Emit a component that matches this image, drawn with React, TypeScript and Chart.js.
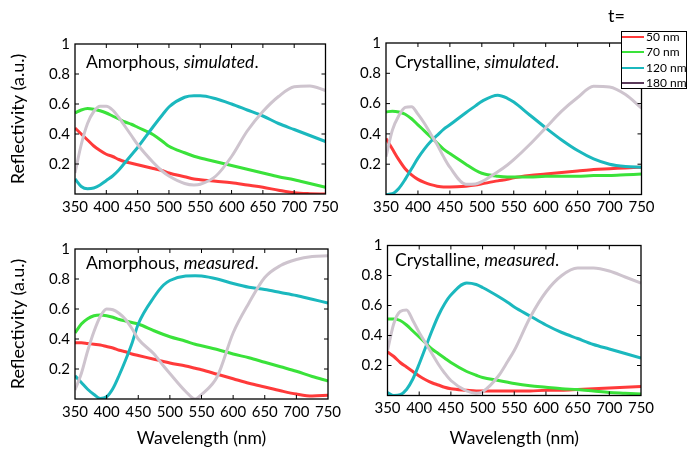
import React, { useEffect, useRef } from 'react';
import { Chart, registerables } from 'chart.js';

Chart.register(...registerables);

// ---------- data ----------
const wavelengths = [350, 360, 370, 380, 390, 400, 410, 420, 430, 440, 450, 475, 490, 500, 525, 540, 550, 575, 600, 625, 650, 675, 700, 725, 750];
const seriesLabels = ['50 nm', '70 nm', '120 nm', '180 nm'];
const panelTitles = [
  ['Amorphous, ', 'simulated', '.'],
  ['Crystalline, ', 'simulated', '.'],
  ['Amorphous, ', 'measured', '.'],
  ['Crystalline, ', 'measured', '.'],
];
const xAxisTitle = 'Wavelength (nm)';
const yAxisTitle = 'Reflectivity (a.u.)';
const legendTitle = 't=';

// Amorphous, simulated
const amSim50 = [0.44, 0.40, 0.36, 0.32, 0.29, 0.265, 0.25, 0.23, 0.215, 0.205, 0.195, 0.17, 0.155, 0.14, 0.115, 0.10, 0.095, 0.085, 0.075, 0.06, 0.045, 0.025, 0.008, 0.002, 0];
const amSim70 = [0.54, 0.56, 0.57, 0.565, 0.555, 0.54, 0.52, 0.50, 0.48, 0.465, 0.445, 0.395, 0.35, 0.318, 0.275, 0.252, 0.24, 0.215, 0.19, 0.165, 0.14, 0.115, 0.095, 0.07, 0.045];
const amSim120 = [0.10, 0.05, 0.035, 0.04, 0.06, 0.09, 0.12, 0.16, 0.21, 0.26, 0.31, 0.45, 0.53, 0.58, 0.645, 0.655, 0.655, 0.635, 0.60, 0.56, 0.52, 0.47, 0.43, 0.39, 0.35];
const amSim180 = [0.14, 0.33, 0.47, 0.55, 0.585, 0.585, 0.56, 0.51, 0.45, 0.39, 0.33, 0.21, 0.15, 0.12, 0.07, 0.06, 0.065, 0.12, 0.25, 0.42, 0.55, 0.65, 0.715, 0.72, 0.69];

// Crystalline, simulated
const crSim50 = [0.37, 0.30, 0.23, 0.17, 0.13, 0.10, 0.08, 0.065, 0.055, 0.05, 0.05, 0.055, 0.062, 0.07, 0.09, 0.10, 0.11, 0.125, 0.135, 0.145, 0.155, 0.165, 0.17, 0.175, 0.18];
const crSim70 = [0.545, 0.55, 0.545, 0.53, 0.50, 0.46, 0.42, 0.38, 0.34, 0.30, 0.27, 0.20, 0.16, 0.14, 0.12, 0.115, 0.115, 0.115, 0.12, 0.12, 0.12, 0.125, 0.125, 0.13, 0.135];
const crSim120 = [0.0, 0.005, 0.04, 0.10, 0.17, 0.24, 0.30, 0.35, 0.39, 0.43, 0.46, 0.54, 0.585, 0.615, 0.655, 0.635, 0.61, 0.525, 0.44, 0.36, 0.29, 0.235, 0.20, 0.185, 0.18];
const crSim180 = [0.25, 0.425, 0.52, 0.575, 0.58, 0.53, 0.47, 0.40, 0.33, 0.25, 0.18, 0.068, 0.07, 0.085, 0.15, 0.195, 0.23, 0.33, 0.44, 0.55, 0.64, 0.715, 0.71, 0.66, 0.57];

// Amorphous, measured
const amMeas50 = [0.375, 0.375, 0.37, 0.365, 0.36, 0.35, 0.34, 0.325, 0.315, 0.30, 0.29, 0.265, 0.25, 0.24, 0.22, 0.205, 0.195, 0.165, 0.135, 0.105, 0.08, 0.055, 0.033, 0.02, 0.025];
const amMeas70 = [0.44, 0.50, 0.535, 0.555, 0.56, 0.555, 0.545, 0.53, 0.52, 0.51, 0.50, 0.455, 0.43, 0.415, 0.385, 0.365, 0.355, 0.33, 0.30, 0.275, 0.245, 0.215, 0.185, 0.15, 0.12];
const amMeas120 = [0.155, 0.11, 0.065, 0.03, 0.003, 0.015, 0.07, 0.16, 0.26, 0.37, 0.50, 0.68, 0.76, 0.79, 0.82, 0.822, 0.82, 0.80, 0.77, 0.745, 0.73, 0.71, 0.69, 0.665, 0.64];
const amMeas180 = [0.06, 0.17, 0.32, 0.45, 0.55, 0.60, 0.595, 0.57, 0.53, 0.47, 0.40, 0.30, 0.22, 0.17, 0.05, 0.0, 0.03, 0.15, 0.44, 0.64, 0.81, 0.89, 0.93, 0.95, 0.955];

// Crystalline, measured
const crMeas50 = [0.29, 0.26, 0.22, 0.19, 0.16, 0.13, 0.105, 0.085, 0.07, 0.055, 0.045, 0.035, 0.03, 0.03, 0.03, 0.03, 0.03, 0.03, 0.035, 0.035, 0.04, 0.045, 0.05, 0.055, 0.06];
const crMeas70 = [0.51, 0.51, 0.50, 0.47, 0.43, 0.39, 0.35, 0.31, 0.28, 0.25, 0.22, 0.16, 0.135, 0.12, 0.10, 0.088, 0.08, 0.065, 0.055, 0.045, 0.04, 0.03, 0.02, 0.015, 0.01];
const crMeas120 = [0.02, 0.0, 0.005, 0.04, 0.11, 0.21, 0.32, 0.43, 0.53, 0.61, 0.67, 0.75, 0.74, 0.72, 0.66, 0.62, 0.59, 0.53, 0.47, 0.42, 0.38, 0.34, 0.31, 0.28, 0.25];
const crMeas180 = [0.30, 0.48, 0.56, 0.57, 0.50, 0.42, 0.35, 0.28, 0.21, 0.15, 0.10, 0.03, 0.015, 0.025, 0.13, 0.23, 0.30, 0.52, 0.69, 0.80, 0.85, 0.85, 0.83, 0.79, 0.75];

// ---------- styling / layout ----------
const W = 687;
const H = 449;
const FONT = 'Lato, "Open Sans", sans-serif';
const lineColors = ['#ff3a3a', '#3ae23a', '#1bb8be', '#cec4ce'];
const legendColors = ['#ff3a3a', '#3ae23a', '#1bb8be', '#5a3a5a'];

type Area = { left: number; top: number; right: number; bottom: number };
type Panel = { area: Area; canvasLeft: number; yTitle: boolean; xTitle: boolean; series: number[][]; title: string[]; textX: number; textY: number };

const panels: Panel[] = [
  { area: { left: 75, top: 44, right: 325.5, bottom: 194 }, canvasLeft: 0, yTitle: true, xTitle: false, series: [amSim50, amSim70, amSim120, amSim180], title: panelTitles[0], textX: 86, textY: 62 },
  { area: { left: 386, top: 43, right: 641.5, bottom: 194.5 }, canvasLeft: 340, yTitle: false, xTitle: false, series: [crSim50, crSim70, crSim120, crSim180], title: panelTitles[1], textX: 395, textY: 62 },
  { area: { left: 75, top: 249, right: 328, bottom: 399 }, canvasLeft: 0, yTitle: true, xTitle: true, series: [amMeas50, amMeas70, amMeas120, amMeas180], title: panelTitles[2], textX: 86, textY: 263 },
  { area: { left: 387.5, top: 245.5, right: 641, bottom: 395.5 }, canvasLeft: 340, yTitle: false, xTitle: true, series: [crMeas50, crMeas70, crMeas120, crMeas180], title: panelTitles[3], textX: 395, textY: 260 },
];

const boxPlugin = {
  id: 'matlabBox',
  afterDraw(chart: any) {
    const { ctx, chartArea: a, scales } = chart;
    ctx.save();
    ctx.strokeStyle = '#000';
    ctx.lineWidth = 1.3;
    ctx.strokeRect(a.left, a.top, a.right - a.left, a.bottom - a.top);
    const tl = 4;
    ctx.beginPath();
    scales.x.ticks.forEach((t: any) => {
      if (t.value <= scales.x.min || t.value >= scales.x.max) return;
      const px = scales.x.getPixelForValue(t.value);
      ctx.moveTo(px, a.bottom);
      ctx.lineTo(px, a.bottom - tl);
      ctx.moveTo(px, a.top);
      ctx.lineTo(px, a.top + tl);
    });
    scales.y.ticks.forEach((t: any) => {
      if (t.value <= scales.y.min + 1e-9 || t.value >= scales.y.max - 1e-9) return;
      const py = scales.y.getPixelForValue(t.value);
      ctx.moveTo(a.left, py);
      ctx.lineTo(a.left + tl, py);
      ctx.moveTo(a.right, py);
      ctx.lineTo(a.right - tl, py);
    });
    ctx.lineWidth = 1;
    ctx.stroke();
    ctx.restore();
  },
};

function buildChart(canvas: HTMLCanvasElement, p: Panel) {
  const yw = p.area.left - p.canvasLeft;
  const xh = p.xTitle ? H - p.area.bottom : 31;
  return new Chart(canvas, {
    type: 'line',
    data: {
      datasets: p.series.map((vals, i) => ({
        label: seriesLabels[i],
        data: wavelengths.map((x, j) => ({ x, y: vals[j] })),
        borderColor: lineColors[i],
        backgroundColor: lineColors[i],
        borderWidth: 3,
        pointRadius: 0,
        fill: false,
        cubicInterpolationMode: 'monotone' as const,
        order: 3 - i,
      })),
    },
    options: {
      responsive: false,
      animation: false,
      events: [],
      layout: {
        padding: {
          left: p.canvasLeft,
          top: p.area.top,
          right: W - p.area.right,
          bottom: H - p.area.bottom - xh,
        },
      },
      plugins: { legend: { display: false }, tooltip: { enabled: false } },
      scales: {
        x: {
          type: 'linear',
          min: 350,
          max: 750,
          ticks: { stepSize: 50, color: '#000', font: { family: FONT, size: 15 }, padding: 4, maxRotation: 0, autoSkip: false },
          grid: { display: false, drawTicks: false },
          border: { display: false },
          title: { display: p.xTitle, text: xAxisTitle, color: '#000', font: { family: FONT, size: 17.5 }, padding: { top: 0, bottom: 0.5 } },
          afterFit: (s: any) => { s.height = xh; },
        },
        y: {
          type: 'linear',
          min: 0,
          max: 1,
          ticks: {
            stepSize: 0.2,
            color: '#000',
            font: { family: FONT, size: 15 },
            padding: 5,
            callback: (v: any) => (Math.abs(v) < 1e-9 ? '' : String(Number(Number(v).toFixed(1)))),
          },
          grid: { display: false, drawTicks: false },
          border: { display: false },
          title: { display: p.yTitle, text: yAxisTitle, color: '#000', font: { family: FONT, size: 18 }, padding: { top: 7.5, bottom: 0 } },
          afterFit: (s: any) => { s.width = yw; },
        },
      },
    },
    plugins: [boxPlugin],
  } as any);
}

function ChartLayer({ panel }: { panel: Panel }) {
  const ref = useRef<HTMLCanvasElement | null>(null);
  useEffect(() => {
    if (!ref.current) return;
    const c = buildChart(ref.current, panel);
    return () => c.destroy();
  }, [panel]);
  return <canvas ref={ref} width={W} height={H} style={{ position: 'absolute', left: 0, top: 0, width: W, height: H }} />;
}

export default function App() {
  return (
    <div style={{ position: 'fixed', left: 0, top: 0, width: W, height: H, background: '#fff', overflow: 'hidden', fontFamily: FONT }}>
      {panels.map((p, i) => (
        <ChartLayer key={i} panel={p} />
      ))}
      {panels.map((p, i) => (
        <div key={'t' + i} style={{ position: 'absolute', left: p.textX, top: p.textY - 11, lineHeight: '22px', fontSize: 17.5, color: '#000', whiteSpace: 'nowrap' }}>
          {p.title[0]}
          <i>{p.title[1]}</i>
          {p.title[2]}
        </div>
      ))}
      <div style={{ position: 'absolute', left: 608, top: 4, fontSize: 18, lineHeight: '22px', color: '#000' }}>{legendTitle}</div>
      <div style={{ position: 'absolute', left: 621, top: 31, width: 64, height: 56, border: '1px solid #000', background: '#fff' }}>
        {seriesLabels.map((s, i) => (
          <div key={s} style={{ position: 'absolute', left: 0, top: -2 + i * 15.3, height: 14, width: 70 }}>
            <span style={{ position: 'absolute', left: 0, top: 6, width: 22, height: 2, background: legendColors[i] }} />
            <span style={{ position: 'absolute', left: 24, top: 0, fontSize: 12, lineHeight: '14px', color: '#000', whiteSpace: 'nowrap' }}>{s}</span>
          </div>
        ))}
      </div>
    </div>
  );
}
